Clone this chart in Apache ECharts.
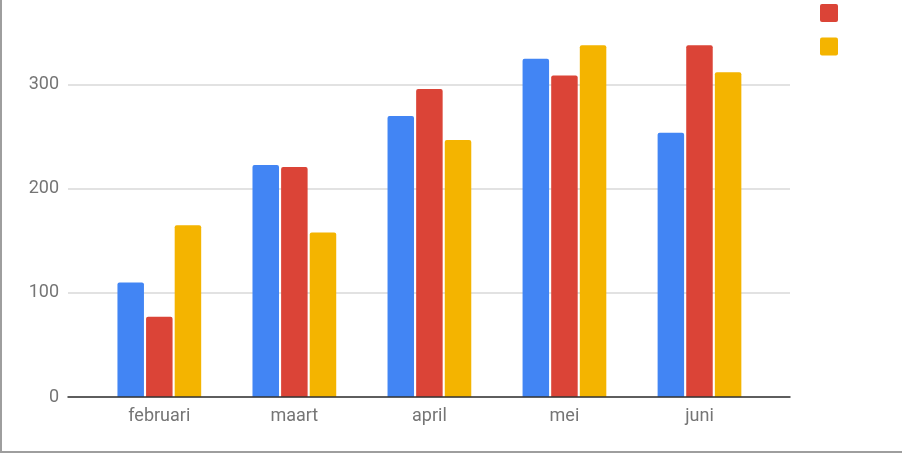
<!DOCTYPE html>
<html>
<head>
<meta charset="utf-8">
<script src="https://cdn.jsdelivr.net/npm/echarts@6/dist/echarts.min.js"></script>
<style>
  html, body { margin: 0; padding: 0; background: #fff; }
  #wrap { position: relative; width: 906px; height: 453px; }
  #chart { position: absolute; left: 0; top: 0; width: 906px; height: 453px; }
  #frame {
    position: absolute; left: 0; top: 0; width: 900px; height: 451px;
    border-left: 2px solid #9e9e9e; border-bottom: 2px solid #9e9e9e;
    pointer-events: none;
  }
</style>
</head>
<body>
<div id="wrap">
  <div id="chart"></div>
  <div id="frame"></div>
</div>
<script>
// data
var months = ["februari", "maart", "april", "mei", "juni"];
var reeks1 = [110, 223, 270, 325, 254]; // blauw
var reeks2 = [77, 221, 296, 309, 338];  // rood
var reeks3 = [165, 158, 247, 338, 312]; // geel
var yTicks = [0, 100, 200, 300];

var colors = ["#4285f4", "#db4437", "#f4b400"];
var labelColor = "#757575";

var chart = echarts.init(document.getElementById("chart"));

function barSeries(name, data, color) {
  return {
    name: name,
    type: "bar",
    xAxisIndex: 1,
    yAxisIndex: 1,
    data: data,
    barWidth: 26.5,
    barGap: "8%",
    clip: false,
    itemStyle: { color: color, borderRadius: [2, 2, 0, 0] },
    animation: false
  };
}

chart.setOption({
  animation: false,
  textStyle: { fontFamily: "Roboto" },
  grid: [
    // grid for the gridlines and baseline (wider than the categories)
    { left: 68, right: 116, top: 84.8, bottom: 56 },
    // grid for the bars
    { left: 91.8, right: 139, top: 84.8, bottom: 56 }
  ],
  legend: {
    orient: "vertical",
    left: 820,
    top: 4,
    padding: 0,
    itemWidth: 18,
    itemHeight: 18,
    itemGap: 15.4,
    icon: "path://M2,0H16A2,2 0 0 1 18,2V16A2,2 0 0 1 16,18H2A2,2 0 0 1 0,16V2A2,2 0 0 1 2,0Z",
    data: ["Reeks 2", "Reeks 3"],
    formatter: function () { return ""; },
    textStyle: { fontSize: 1 }
  },
  xAxis: [
    {
      gridIndex: 0,
      type: "value",
      min: 0,
      max: 1,
      z: 5,
      axisLine: { show: true, lineStyle: { color: "#333", width: 1.5 } },
      axisTick: { show: false },
      axisLabel: { show: false },
      splitLine: { show: false }
    },
    {
      gridIndex: 1,
      type: "category",
      data: months,
      axisLine: { show: false },
      axisTick: { show: false },
      axisLabel: { color: labelColor, fontSize: 18, margin: 10, fontFamily: "Roboto" }
    }
  ],
  yAxis: [
    {
      gridIndex: 0,
      type: "value",
      min: yTicks[0],
      max: yTicks[yTicks.length - 1],
      interval: 100,
      axisLine: { show: false },
      axisTick: { show: false },
      axisLabel: { color: labelColor, fontSize: 18, margin: 9, fontFamily: "Roboto" },
      splitLine: { lineStyle: { color: "#d9d9d9", width: 1.5 } }
    },
    {
      gridIndex: 1,
      type: "value",
      min: yTicks[0],
      max: yTicks[yTicks.length - 1],
      show: false,
      splitLine: { show: false }
    }
  ],
  series: [
    barSeries("Reeks 1", reeks1, colors[0]),
    barSeries("Reeks 2", reeks2, colors[1]),
    barSeries("Reeks 3", reeks3, colors[2])
  ]
});
</script>
</body>
</html>
